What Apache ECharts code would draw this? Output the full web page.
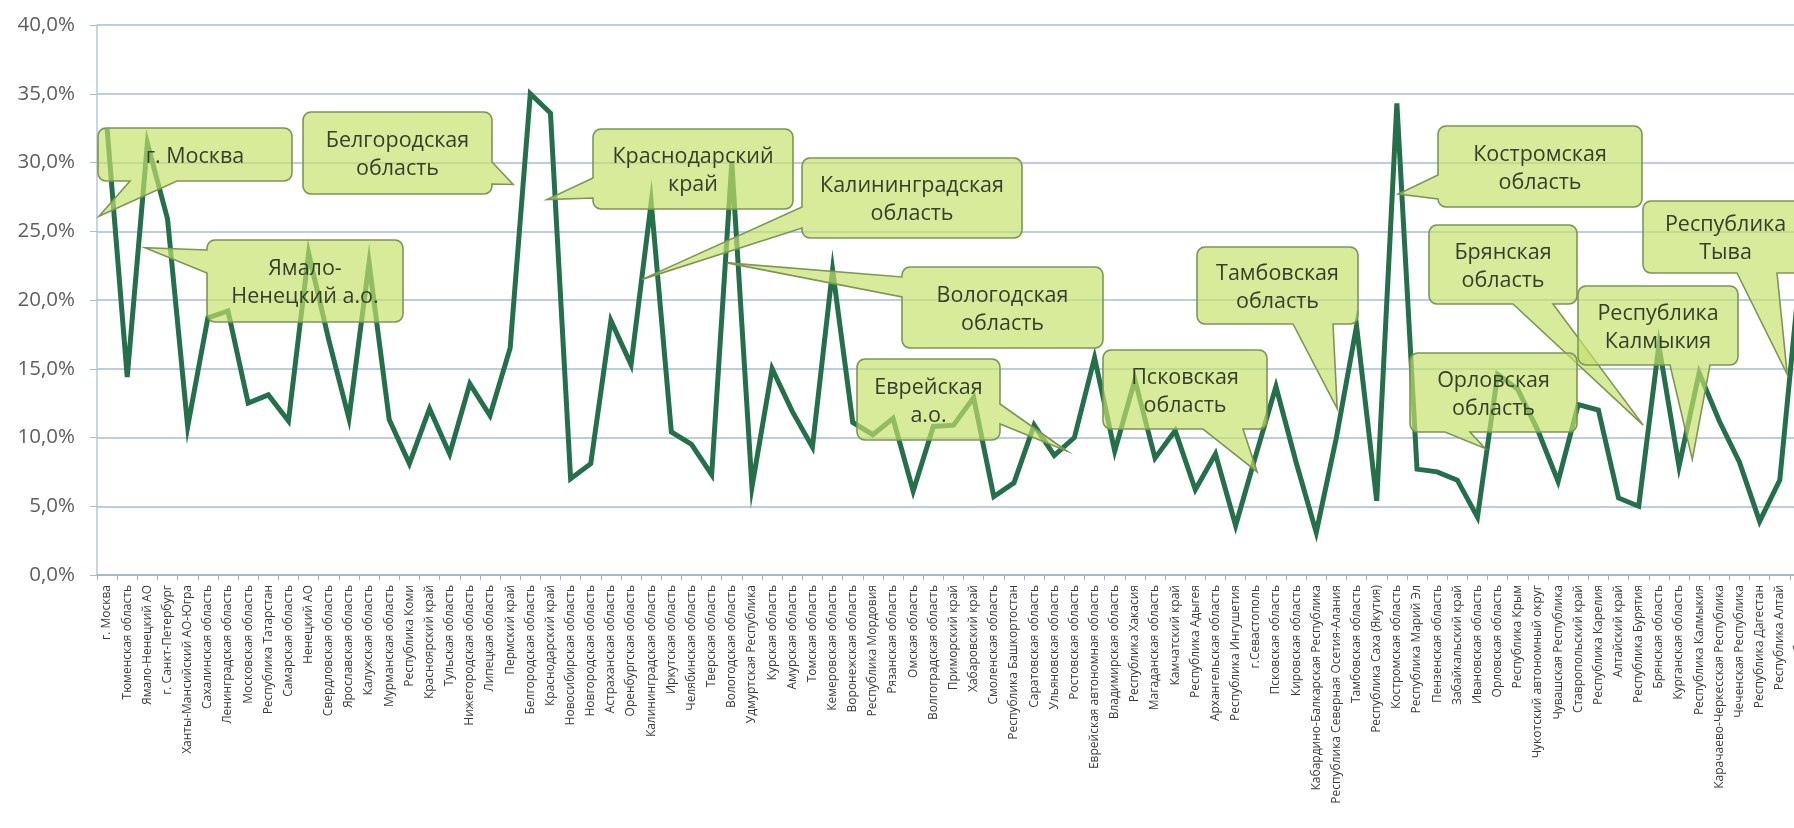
<!DOCTYPE html>
<html>
<head>
<meta charset="utf-8">
<script src="https://cdn.jsdelivr.net/npm/echarts@6/dist/echarts.min.js"></script>
<style>
  html, body { margin: 0; padding: 0; background: #fff; }
  #chart { width: 1794px; height: 828px; }
</style>
</head>
<body>
<div id="chart"></div>
<script>
// регионы (последний, Тыва, обрезан правым краем рисунка)
const regions = [
  'г. Москва', 'Тюменская область', 'Ямало-Ненецкий АО', 'г. Санкт-Петербург', 'Ханты-Мансийский АО-Югра',
  'Сахалинская область', 'Ленинградская область', 'Московская область', 'Республика Татарстан', 'Самарская область',
  'Ненецкий АО', 'Свердловская область', 'Ярославская область', 'Калужская область', 'Мурманская область',
  'Республика Коми', 'Красноярский край', 'Тульская область', 'Нижегородская область', 'Липецкая область',
  'Пермский край', 'Белгородская область', 'Краснодарский край', 'Новосибирская область', 'Новгородская область',
  'Астраханская область', 'Оренбургская область', 'Калининградская область', 'Иркутская область', 'Челябинская область',
  'Тверская область', 'Вологодская область', 'Удмуртская Республика', 'Курская область', 'Амурская область',
  'Томская область', 'Кемеровская область', 'Воронежская область', 'Республика Мордовия', 'Рязанская область',
  'Омская область', 'Волгоградская область', 'Приморский край', 'Хабаровский край', 'Смоленская область',
  'Республика Башкортостан', 'Саратовская область', 'Ульяновская область', 'Ростовская область', 'Еврейская автономная область',
  'Владимирская область', 'Республика Хакасия', 'Магаданская область', 'Камчатский край', 'Республика Адыгея',
  'Архангельская область', 'Республика Ингушетия', 'г.Севастополь', 'Псковская область', 'Кировская область',
  'Кабардино-Балкарская Республика', 'Республика Северная Осетия-Алания', 'Тамбовская область', 'Республика Саха (Якутия)', 'Костромская область',
  'Республика Марий Эл', 'Пензенская область', 'Забайкальский край', 'Ивановская область', 'Орловская область',
  'Республика Крым', 'Чукотский автономный округ', 'Чувашская Республика', 'Ставропольский край', 'Республика Карелия',
  'Алтайский край', 'Республика Бурятия', 'Брянская область', 'Курганская область', 'Республика Калмыкия',
  'Карачаево-Черкесская Республика', 'Чеченская Республика', 'Республика Дагестан', 'Республика Алтай', 'Республика Тыва'
];

// доля, %
const shares = [
  32.5, 14.4, 31.4, 25.9, 10.8, 18.7, 19.2, 12.5, 13.1, 11.2,
  23.4, 17.1, 11.4, 22.7, 11.3, 8.1, 12.1, 8.8, 13.9, 11.6,
  16.5, 35.0, 33.6, 7.0, 8.1, 18.5, 15.3, 27.1, 10.4, 9.5,
  7.3, 30.0, 6.4, 15.0, 11.9, 9.3, 22.2, 11.1, 10.2, 11.4,
  6.1, 10.8, 10.9, 12.9, 5.7, 6.7, 10.9, 8.7, 10.0, 15.8,
  9.0, 14.2, 8.5, 10.5, 6.2, 8.8, 3.6, 8.7, 13.7, 8.2,
  3.1, 10.0, 18.1, 5.4, 34.3, 7.7, 7.5, 6.9, 4.2, 14.6,
  13.5, 10.5, 6.8, 12.4, 12.0, 5.6, 5.0, 16.7, 7.9, 14.7,
  11.2, 8.2, 3.9, 6.9, 22.0
];

const yTicks = [0, 5, 10, 15, 20, 25, 30, 35, 40];

// выноски: текст и точка, куда указывает хвост (индекс категории, %)
const calloutTexts = [
  'г. Москва', 'Белгородская\nобласть', 'Ямало-\nНенецкий а.о.', 'Краснодарский\nкрай',
  'Калининградская\nобласть', 'Вологодская\nобласть', 'Еврейская\nа.о.', 'Псковская\nобласть',
  'Тамбовская\nобласть', 'Костромская\nобласть', 'Брянская\nобласть', 'Орловская\nобласть',
  'Республика\nКалмыкия', 'Республика\nТыва'
];
const calloutTips = [
  [-0.4, 26.1], [20.15, 28.4], [1.88, 23.8], [21.83, 27.3],
  [26.55, 21.5], [30.77, 22.7], [47.64, 9.0], [57.07, 7.5],
  [61.04, 12.1], [64.07, 27.7], [76.22, 10.9], [68.38, 9.2],
  [78.66, 8.4], [83.37, 14.6]
];
// размещение рамок выносок (px): x, y, w, h, сторона хвоста, основание хвоста
const calloutBoxes = [
  [98, 128, 194, 53, 'bottom', 130, 177],
  [303, 112, 189, 82, 'right', 162, 184],
  [207, 240, 196, 82, 'left', 250, 273],
  [593, 129, 200, 80, 'left', 178, 198],
  [802, 158, 220, 80, 'left', 207, 228],
  [902, 267, 201, 81, 'left', 277, 297],
  [857, 359, 143, 81, 'right', 404, 424],
  [1103, 350, 164, 79, 'bottom', 1203, 1243],
  [1197, 247, 161, 77, 'bottom', 1293, 1333],
  [1438, 126, 204, 81, 'left', 175, 199],
  [1429, 225, 148, 79, 'bottom', 1513, 1553],
  [1410, 353, 167, 79, 'bottom', 1445, 1470],
  [1578, 286, 160, 79, 'bottom', 1670, 1710],
  [1643, 201, 165, 72, 'bottom', 1737, 1777]
];

let myChart = echarts.init(document.getElementById('chart'))

let option = {
    animation: false,
    grid: {
        left: 97,
        right: -16,
        top: 25,
        bottom: 253,
        containLabel: false,
        outerBoundsMode: 'none'
    },
    xAxis: {
        type: 'category',
        data: regions,
        boundaryGap: true,
        axisLine: {
            show: true,
            lineStyle: { color: '#9fb1c6', width: 1.5 }
        },
        axisTick: {
            show: true,
            length: 5,
            lineStyle: { color: '#9fb1c6' }
        },
        axisLabel: {
            interval: 0,
            rotate: 90,
            margin: 10,
            fontSize: 12,
            fontFamily: 'Open Sans',
            color: '#3a3a3a'
        },
        splitLine: { show: false }
    },
    yAxis: {
        type: 'value',
        min: yTicks[0],
        max: yTicks[yTicks.length - 1],
        interval: 5,
        axisLine: {
            show: true,
            lineStyle: { color: '#b7c7da', width: 1.5 }
        },
        axisTick: {
            show: true,
            length: 7,
            lineStyle: { color: '#a8bcd2' }
        },
        axisLabel: {
            margin: 22,
            fontSize: 20.5,
            fontFamily: 'Open Sans',
            color: '#5f5f5f',
            formatter: function (v) {
                return v.toFixed(1).replace('.', ',') + '%'
            }
        },
        splitLine: {
            show: true,
            lineStyle: { color: '#a8bcd2', width: 1.5 }
        }
    },
    series: [
        {
            type: 'line',
            data: shares,
            symbol: 'none',
            clip: false,
            lineStyle: {
                color: '#25704b',
                width: 5,
                join: 'miter'
            },
            z: 2
        }
    ]
}
myChart.setOption(option)

// пиксель хвоста из координат данных
function tipToPixel(tip) {
    const x0 = myChart.convertToPixel({ xAxisIndex: 0 }, regions[0])
    const x1 = myChart.convertToPixel({ xAxisIndex: 0 }, regions[1])
    const y = myChart.convertToPixel({ yAxisIndex: 0 }, tip[1])
    return [x0 + tip[0] * (x1 - x0), y]
}

function calloutShape(b, tip) {
    const r = 8
    const x0 = b[0], y0 = b[1], x1 = b[0] + b[2], y1 = b[1] + b[3]
    const side = b[4], b1 = b[5], b2 = b[6]
    const pts = []
    const arc = (cx, cy, a0) => {
        for (let k = 0; k <= 4; k++) {
            const a = a0 + k * Math.PI / 8
            pts.push([cx + r * Math.cos(a), cy + r * Math.sin(a)])
        }
    }
    arc(x0 + r, y0 + r, Math.PI)
    if (side === 'top') pts.push([b1, y0], tip, [b2, y0])
    arc(x1 - r, y0 + r, 1.5 * Math.PI)
    if (side === 'right') pts.push([x1, b1], tip, [x1, b2])
    arc(x1 - r, y1 - r, 0)
    if (side === 'bottom') pts.push([b2, y1], tip, [b1, y1])
    arc(x0 + r, y1 - r, 0.5 * Math.PI)
    if (side === 'left') pts.push([x0, b2], tip, [x0, b1])
    return pts
}

let graphics = []
calloutBoxes.forEach((b, i) => {
    const tip = tipToPixel(calloutTips[i])
    graphics.push({
        type: 'polygon',
        z: 100,
        shape: { points: calloutShape(b, tip) },
        style: {
            fill: 'rgba(198, 226, 108, 0.68)',
            stroke: '#7d9656',
            lineWidth: 1.6
        }
    })
    graphics.push({
        type: 'text',
        z: 101,
        x: b[0] + b[2] / 2,
        y: b[1] + b[3] / 2 + 2,
        style: {
            text: calloutTexts[i],
            font: '21.5px "Open Sans"',
            fill: '#363f2c',
            align: 'center',
            verticalAlign: 'middle',
            lineHeight: 28
        }
    })
})
myChart.setOption({ graphic: graphics })
</script>
</body>
</html>
